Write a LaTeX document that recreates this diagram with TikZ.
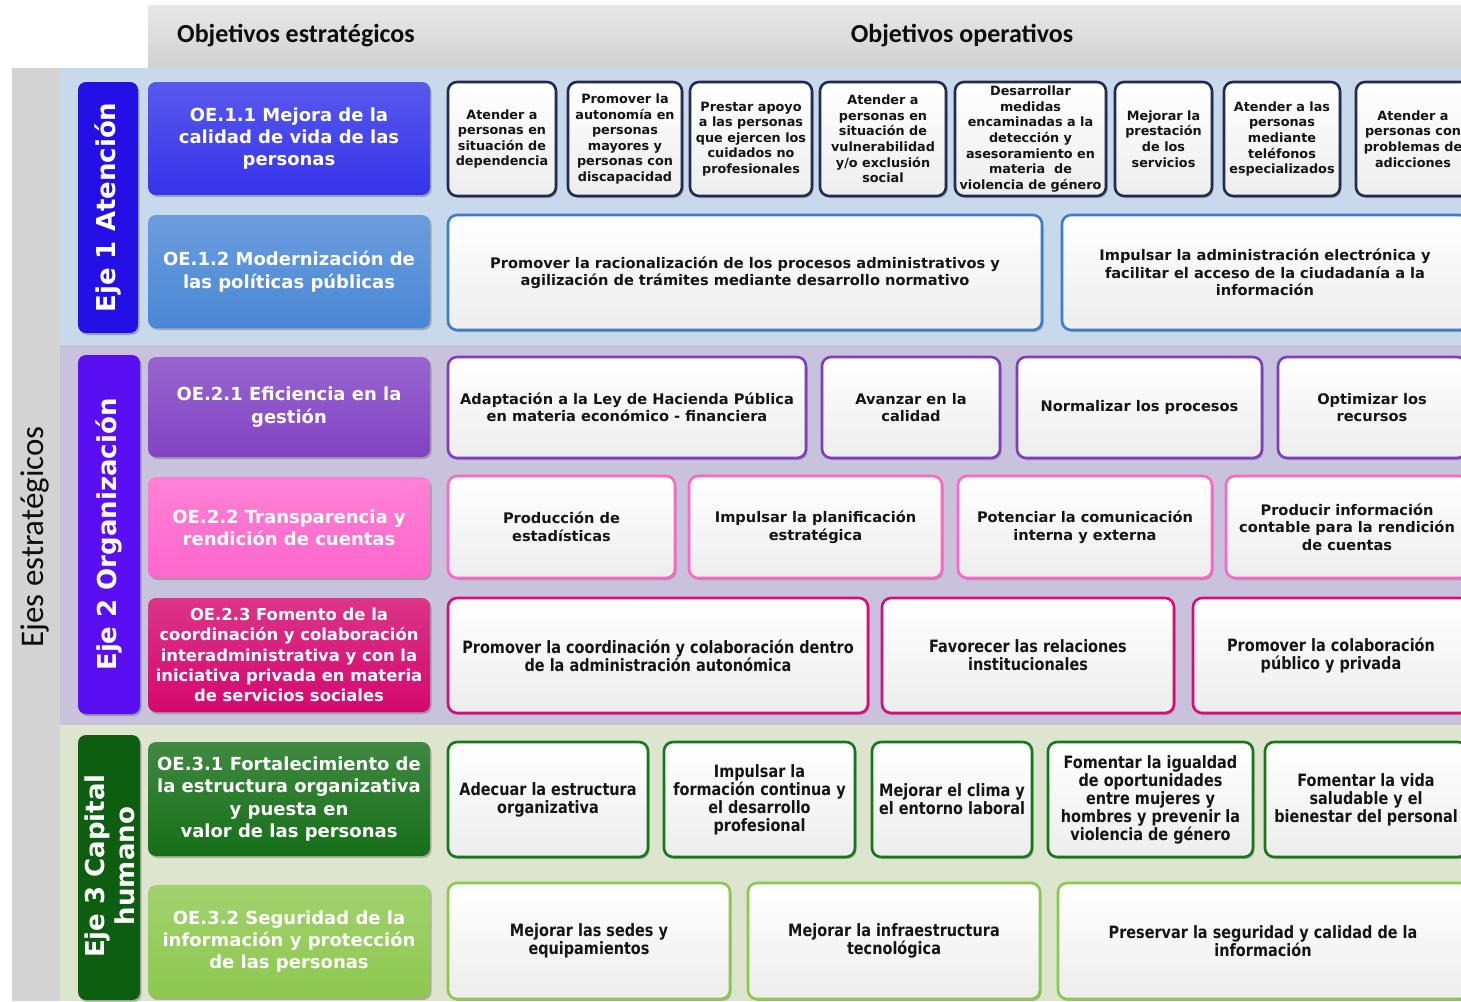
\documentclass[tikz,border=0pt]{standalone}
\usepackage{fontspec}
\setmainfont{DejaVu Sans}
\newfontfamily\calfont{Carlito}
\newfontfamily\narf{DejaVu Sans}[FakeStretch=0.85]
\usetikzlibrary{shadows}
\definecolor{bandA}{HTML}{C7D9EB}
\definecolor{bandB}{HTML}{C9C2DD}
\definecolor{bandC}{HTML}{DEE5CE}
\definecolor{leftgray}{HTML}{D3D3D3}
\definecolor{tabA}{HTML}{2410E4}
\definecolor{tabB}{HTML}{5A0EF2}
\definecolor{tabC}{HTML}{0E5E12}
\definecolor{oeA}{HTML}{3434EA}
\definecolor{oeB}{HTML}{4A87D6}
\definecolor{oeC}{HTML}{8243C4}
\definecolor{oeD}{HTML}{FF66CC}
\definecolor{oeE}{HTML}{D4086E}
\definecolor{oeF}{HTML}{166F18}
\definecolor{oeG}{HTML}{8DC84E}
\definecolor{brA}{HTML}{222C52}
\definecolor{brB}{HTML}{3D7EC8}
\definecolor{brC}{HTML}{7C3FC0}
\definecolor{brD}{HTML}{FF66C6}
\definecolor{brE}{HTML}{DA0A78}
\definecolor{brF}{HTML}{17781B}
\definecolor{brG}{HTML}{8DC84E}
\newcommand\bx[7]{\node[#2,minimum width={(#5-#3)*1pt},minimum height={(#6-#4)*1pt}] (#1) at ({(#3+#5)/2},{(#4+#6)/2}) {#7};}
\tikzset{
  shd/.style={drop shadow={shadow xshift=1.5pt,shadow yshift=-2pt,opacity=0.35,fill=black!70}},
  opbox/.style={rounded corners=9pt,line width=2.6pt,draw=#1,top color=white,bottom color=black!7,
    align=center,inner sep=0pt,text=black!92,shd},
  fA/.style={font=\bfseries\fontsize{12.8}{15.6}\selectfont},
  fB/.style={font=\bfseries\fontsize{14.6}{17.5}\selectfont},
  fN/.style={font=\narf\bfseries\fontsize{17}{18}\selectfont},
  oebox/.style={rounded corners=8pt,top color=#1!82!white,bottom color=#1,text=white,align=center,
    inner sep=0pt,shd,font=\bfseries\fontsize{18}{22.4}\selectfont},
  tabbox/.style={rounded corners=8pt,fill=#1,inner sep=0pt,shd},
  tabtext/.style={text=white,rotate=90,align=center,font=\bfseries\fontsize{26}{29}\selectfont},
  headtext/.style={text=black!95,font=\calfont\bfseries\fontsize{26}{30}\selectfont},
}
\begin{document}
\begin{tikzpicture}[x=1pt,y=-1pt]
\useasboundingbox (0,0) rectangle (1461,1001);
\clip (0,0) rectangle (1461,1001);
\fill[white] (0,0) rectangle (1461,1001);
% backgrounds
\shade[top color=black!9,bottom color=black!18] (148,5) rectangle (1461,68);
\fill[leftgray] (12,68) rectangle (60,1001);
\fill[bandA] (60,68) rectangle (1461,345);
\fill[bandB] (60,345) rectangle (1461,725);
\fill[bandC] (60,725) rectangle (1461,1001);
% headers
\node[headtext] (h1) at (296,36) {Objetivos estratégicos};
\node[headtext] (h2) at (962,36) {Objetivos operativos};
\node[text=black!95,rotate=90,font=\calfont\fontsize{33}{38}\selectfont] (ejes) at (35,537) {Ejes estratégicos};
% eje tabs
\bx{tab1}{tabbox=tabA}{78}{82}{138}{333}{}
\node[tabtext] (tab1t) at (tab1) {Eje 1 Atención};
\bx{tab2}{tabbox=tabB}{78}{355}{140}{714}{}
\node[tabtext] (tab2t) at (tab2) {Eje 2 Organización};
\bx{tab3}{tabbox=tabC}{78}{735}{140}{1000}{}
\node[tabtext,font=\bfseries\fontsize{26}{30}\selectfont] (tab3t) at (110,866) {Eje 3 Capital\\humano};
% OE boxes
\bx{oe11}{oebox=oeA}{148}{82}{430}{195}{OE.1.1 Mejora de la\\calidad de vida de las\\personas}
\bx{oe12}{oebox=oeB}{148}{215}{430}{328}{OE.1.2 Modernización de\\las políticas públicas}
\bx{oe21}{oebox=oeC}{148}{357}{430}{457}{OE.2.1 Eficiencia en la\\gestión}
\bx{oe22}{oebox=oeD}{148}{477}{430}{578}{OE.2.2 Transparencia y\\rendición de cuentas}
\bx{oe23}{oebox=oeE,font=\bfseries\fontsize{16.4}{20.3}\selectfont}{148}{598}{430}{712}{OE.2.3 Fomento de la\\coordinación y colaboración\\interadministrativa y con la\\iniciativa privada en materia\\de servicios sociales}
\bx{oe31}{oebox=oeF}{148}{742}{430}{856}{OE.3.1 Fortalecimiento de\\la estructura organizativa\\y puesta en\\valor de las personas}
\bx{oe32}{oebox=oeG}{148}{885}{430}{998}{OE.3.2 Seguridad de la\\información y protección\\de las personas}
% row 1
\bx{r1a}{opbox=brA,fA}{448}{82}{556}{196}{Atender a\\personas en\\situación de\\dependencia}
\bx{r1b}{opbox=brA,fA}{568}{82}{682}{196}{Promover la\\autonomía en\\personas\\mayores y\\personas con\\discapacidad}
\bx{r1c}{opbox=brA,fA}{690}{82}{812}{196}{Prestar apoyo\\a las personas\\que ejercen los\\cuidados no\\profesionales}
\bx{r1d}{opbox=brA,fA}{820}{82}{946}{196}{Atender a\\personas en\\situación de\\vulnerabilidad\\y/o exclusión\\social}
\bx{r1e}{opbox=brA,fA}{955}{82}{1106}{196}{Desarrollar\\medidas\\encaminadas a la\\detección y\\asesoramiento en\\materia\ \ de\\violencia de género}
\bx{r1f}{opbox=brA,fA}{1115}{82}{1212}{196}{Mejorar la\\prestación\\de los\\servicios}
\bx{r1g}{opbox=brA,fA}{1224}{82}{1340}{196}{Atender a las\\personas\\mediante\\teléfonos\\especializados}
\bx{r1h}{opbox=brA,fA}{1356}{82}{1470}{196}{Atender a\\personas con\\problemas de\\adicciones}
% row 2
\bx{r2a}{opbox=brB,fB}{448}{215}{1042}{330}{Promover la racionalización de los procesos administrativos y\\agilización de trámites mediante desarrollo normativo}
\bx{r2b}{opbox=brB,fB}{1062}{215}{1468}{330}{Impulsar la administración electrónica y\\facilitar el acceso de la ciudadanía a la\\información}
% row 3
\bx{r3a}{opbox=brC,fB}{448}{357}{806}{458}{Adaptación a la Ley de Hacienda Pública\\en materia económico - financiera}
\bx{r3b}{opbox=brC,fB}{822}{357}{1000}{458}{Avanzar en la\\calidad}
\bx{r3c}{opbox=brC,fB}{1017}{357}{1262}{458}{Normalizar los procesos}
\bx{r3d}{opbox=brC,fB}{1278}{357}{1466}{458}{Optimizar los\\recursos}
% row 4
\bx{r4a}{opbox=brD,fB}{448}{476}{675}{578}{Producción de\\estadísticas}
\bx{r4b}{opbox=brD,fB}{689}{476}{942}{578}{Impulsar la planificación\\estratégica}
\bx{r4c}{opbox=brD,fB}{958}{476}{1212}{578}{Potenciar la comunicación\\interna y externa}
\bx{r4d}{opbox=brD,fB}{1226}{476}{1468}{578}{Producir información\\contable para la rendición\\de cuentas}
% row 5
\bx{r5a}{opbox=brE,fN}{448}{598}{868}{713}{Promover la coordinación y colaboración dentro\\de la administración autonómica}
\bx{r5b}{opbox=brE,fN}{882}{598}{1174}{713}{Favorecer las relaciones\\institucionales}
\bx{r5c}{opbox=brE,fN}{1193}{598}{1469}{713}{Promover la colaboración\\público y privada}
% row 6
\bx{r6a}{opbox=brF,fN}{448}{742}{648}{857}{Adecuar la estructura\\organizativa}
\bx{r6b}{opbox=brF,fN}{664}{742}{855}{857}{Impulsar la\\formación continua y\\el desarrollo\\profesional}
\bx{r6c}{opbox=brF,fN}{872}{742}{1032}{857}{Mejorar el clima y\\el entorno laboral}
\bx{r6d}{opbox=brF,fN}{1048}{742}{1253}{857}{Fomentar la igualdad\\de oportunidades\\entre mujeres y\\hombres y prevenir la\\violencia de género}
\bx{r6e}{opbox=brF,fN}{1265}{742}{1467}{857}{Fomentar la vida\\saludable y el\\bienestar del personal}
% row 7
\bx{r7a}{opbox=brG,fN}{448}{883}{730}{999}{Mejorar las sedes y\\equipamientos}
\bx{r7b}{opbox=brG,fN}{748}{883}{1040}{999}{Mejorar la infraestructura\\tecnológica}
\bx{r7c}{opbox=brG,fN}{1058}{883}{1468}{999}{Preservar la seguridad y calidad de la\\información}
\end{tikzpicture}
\end{document}
